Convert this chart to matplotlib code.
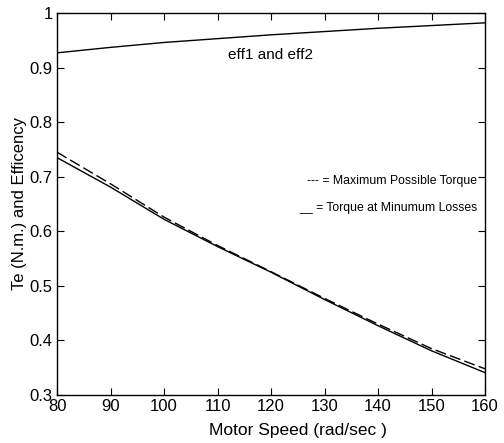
import matplotlib
matplotlib.use("Agg")
import matplotlib.pyplot as plt
import numpy as np

plt.rcParams['font.family'] = ['Liberation Sans', 'DejaVu Sans']

speed = [80, 90, 100, 110, 120, 130, 140, 150, 160]
eff = [0.927, 0.937, 0.946, 0.953, 0.960, 0.966, 0.972, 0.977, 0.982]
torque_min_loss = [0.735, 0.681, 0.622, 0.572, 0.525, 0.475, 0.427, 0.381, 0.341]
torque_max = [0.745, 0.687, 0.626, 0.574, 0.526, 0.477, 0.430, 0.385, 0.348]

fig = plt.figure(figsize=(5.04, 4.43), dpi=100)
ax = fig.add_axes([57/504, 1-395/443, 428/504, 382/443])

ax.plot(speed, eff, color='black', lw=1.0)
ax.plot(speed, torque_min_loss, color='black', lw=1.0)
ax.plot(speed, torque_max, color='black', lw=1.0, ls=(0, (8, 3)))

ax.set_xlim(80, 160)
ax.set_ylim(0.3, 1.0)
ax.set_xticks([80, 90, 100, 110, 120, 130, 140, 150, 160])
ax.set_yticks([0.3, 0.4, 0.5, 0.6, 0.7, 0.8, 0.9, 1.0])
ax.set_yticklabels(['0.3', '0.4', '0.5', '0.6', '0.7', '0.8', '0.9', '1'])
ax.tick_params(direction='in', top=True, right=True, labelsize=12, length=5, pad=3)
for s in ax.spines.values():
    s.set_linewidth(1.0)

ax.set_xlabel('Motor Speed (rad/sec )', fontsize=12.5)
ax.xaxis.set_label_coords((298-57)/428, -(423-395)/382)
ax.set_ylabel('Te (N.m.) and Efficency', fontsize=12, labelpad=2)

ax.text(0.5, 0.89, 'eff1 and eff2', transform=ax.transAxes, fontsize=11, ha='center', va='center')
ax.text(0.982, 0.560, '--- = Maximum Possible Torque', transform=ax.transAxes, fontsize=8.8, ha='right', va='center')
ax.text(0.982, 0.4895, '__ = Torque at Minumum Losses', transform=ax.transAxes, fontsize=8.8, ha='right', va='center')

fig.savefig('out.png', dpi=100)
